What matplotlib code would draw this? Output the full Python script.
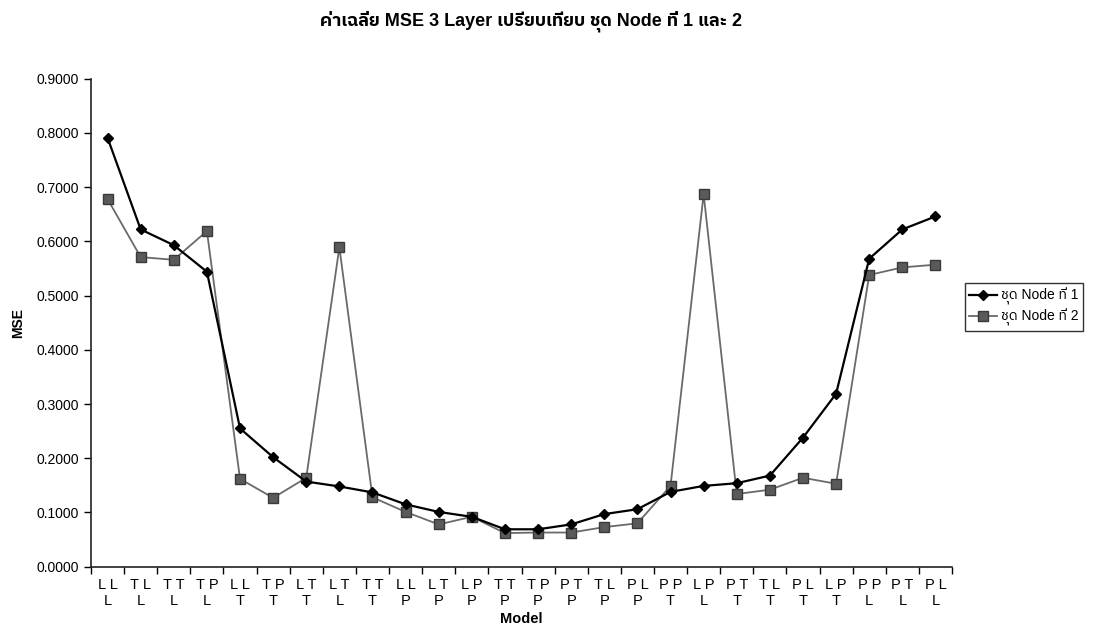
import matplotlib
matplotlib.use("Agg")
import matplotlib.pyplot as plt
from matplotlib import font_manager
from matplotlib.ticker import FormatStrFormatter, FixedLocator

# ---- data ----
models = ["L L\nL", "T L\nL", "T T\nL", "T P\nL", "L L\nT", "T P\nT", "L T\nT", "L T\nL", "T T\nT",
          "L L\nP", "L T\nP", "L P\nP", "T T\nP", "T P\nP", "P T\nP", "T L\nP", "P L\nP", "P P\nT",
          "L P\nL", "P T\nT", "T L\nT", "P L\nT", "L P\nT", "P P\nL", "P T\nL", "P L\nL"]
node1 = [0.791, 0.622, 0.593, 0.544, 0.255, 0.202, 0.157, 0.148, 0.137, 0.115, 0.101, 0.092,
         0.069, 0.069, 0.078, 0.097, 0.106, 0.138, 0.149, 0.154, 0.168, 0.238, 0.319, 0.568,
         0.622, 0.646]
node2 = [0.678, 0.571, 0.566, 0.619, 0.162, 0.127, 0.164, 0.589, 0.128, 0.101, 0.078, 0.092,
         0.062, 0.063, 0.063, 0.073, 0.080, 0.149, 0.687, 0.134, 0.142, 0.164, 0.153, 0.538,
         0.552, 0.557]
series_names = ["ชุด Node ที่ 1", "ชุด Node ที่ 2"]
title = "ค่าเฉลี่ย MSE 3 Layer เปรียบเทียบ ชุด Node ที่ 1 และ 2"
xlabel = "Model"
ylabel = "MSE"
yticks = [0.0, 0.1, 0.2, 0.3, 0.4, 0.5, 0.6, 0.7, 0.8, 0.9]

# ---- fonts: find a family with Thai glyphs ----
def find_thai_family():
    try:
        from fontTools.ttLib import TTFont
    except Exception:
        return None
    preferred = []
    others = []
    seen = set()
    for f in font_manager.fontManager.ttflist:
        if f.fname in seen:
            continue
        seen.add(f.fname)
        try:
            tt = TTFont(f.fname, fontNumber=0, lazy=True)
            cmap = tt.getBestCmap()
            if cmap and 0x0E04 in cmap and 0x0E0A in cmap:
                if "Sans" in f.name:
                    preferred.append(f.name)
                else:
                    others.append(f.name)
        except Exception:
            pass
    lst = preferred + others
    return lst[0] if lst else None

thai = find_thai_family()
fams = ["Liberation Sans"]
if thai:
    fams.append(thai)
fams.append("DejaVu Sans")
plt.rcParams["font.family"] = fams

fig = plt.figure(figsize=(11.01, 6.36), dpi=100)
ax = fig.add_axes([91 / 1101, 1 - 566.7 / 636, (952 - 91) / 1101, (566.7 - 78.7) / 636])

x = list(range(len(models)))
ax.plot(x, node1, color="black", lw=1.6, marker="D", markersize=5.5,
        markerfacecolor="black", markeredgecolor="black", label=series_names[0], zorder=3)
ax.plot(x, node2, color="#6a6a6a", lw=1.3, marker="s", markersize=7,
        markerfacecolor="#5a5a5a", markeredgecolor="#3a3a3a", label=series_names[1], zorder=2)

ax.set_xlim(-0.5, len(models) - 0.5)
ax.set_ylim(0, 0.9)
ax.set_yticks(yticks)
ax.yaxis.set_major_formatter(FormatStrFormatter("%.4f"))
ax.set_xticks(x)
ax.set_xticklabels(models, fontsize=10.5, linespacing=1.2)
ax.xaxis.set_minor_locator(FixedLocator([i - 0.5 for i in range(len(models) + 1)]))
ax.tick_params(axis="x", which="major", length=0, pad=8)
ax.tick_params(axis="x", which="minor", length=5, width=1, direction="out")
ax.tick_params(axis="y", length=5, width=1, labelsize=10, direction="out")

for s in ["top", "right"]:
    ax.spines[s].set_visible(False)
for s in ["left", "bottom"]:
    ax.spines[s].set_linewidth(1.2)
    ax.spines[s].set_color("#222222")

ax.set_xlabel(xlabel, fontsize=10.5, fontweight="bold", labelpad=3)
ax.set_ylabel(ylabel, fontsize=10, fontweight="bold", labelpad=8)

fig.text(0.482, 1 - 21 / 636, title, ha="center", va="center", fontsize=13, fontweight="bold")

leg = fig.legend(loc="center left", bbox_to_anchor=(958 / 1101, 1 - 307 / 636), fontsize=10,
                 frameon=True, fancybox=False, edgecolor="black", handlelength=2.0,
                 borderpad=0.3, labelspacing=0.3, handletextpad=0.3)
leg.get_frame().set_linewidth(1.0)

fig.savefig("out.png", dpi=100)
